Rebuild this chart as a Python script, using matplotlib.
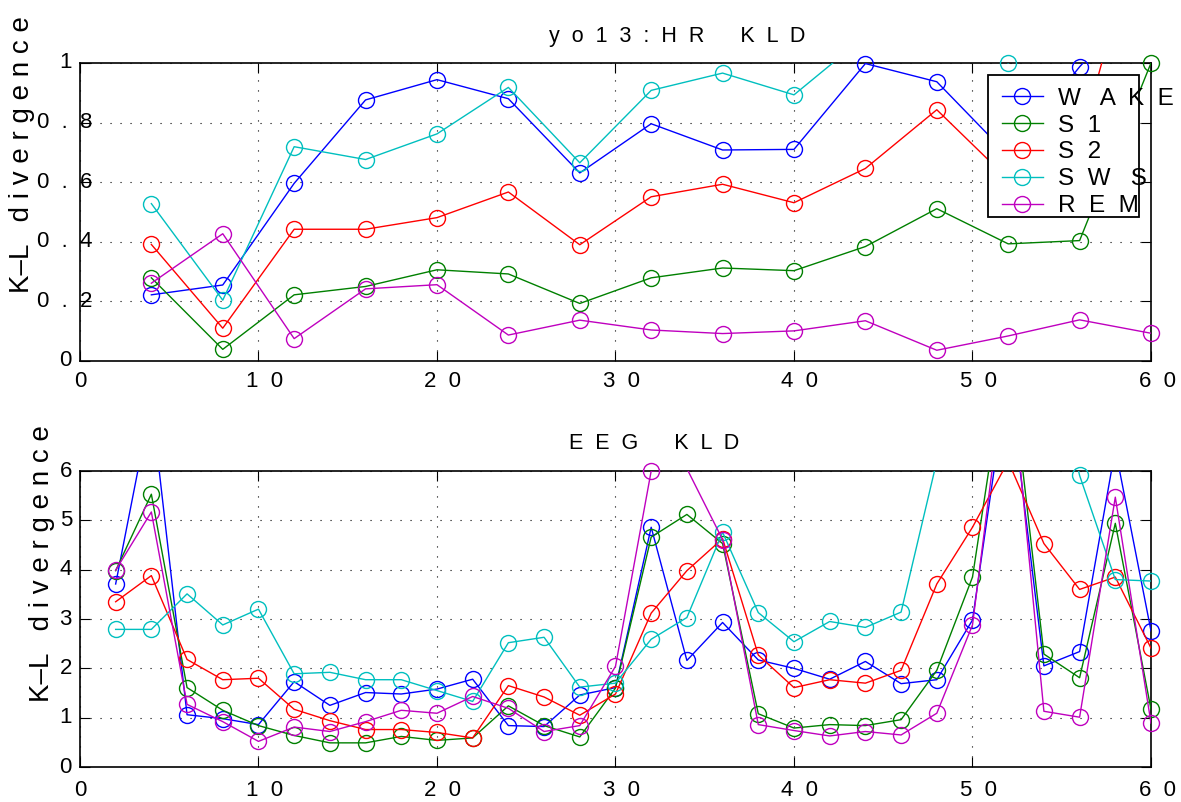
import numpy as np
import matplotlib
matplotlib.use('Agg')
import matplotlib.pyplot as plt
import matplotlib.transforms as mtr
from matplotlib.lines import Line2D
from matplotlib.patches import Rectangle

plt.rcParams['font.family'] = ['Liberation Sans', 'DejaVu Sans']

# heart rate KLD, one point every 4 units
hr_x = np.arange(4, 61, 4)
hr_wake = [0.222, 0.255, 0.596, 0.876, 0.944, 0.880, 0.631, 0.796, 0.708, 0.710, 0.998, 0.937, 0.690, 0.987, 1.25]
hr_s1 = [0.279, 0.039, 0.222, 0.250, 0.306, 0.292, 0.193, 0.279, 0.312, 0.303, 0.384, 0.511, 0.393, 0.404, 1.00]
hr_s2 = [0.391, 0.110, 0.442, 0.442, 0.481, 0.567, 0.390, 0.551, 0.593, 0.531, 0.646, 0.843, 0.610, 0.730, 1.60]
hr_sws = [0.528, 0.204, 0.719, 0.676, 0.762, 0.918, 0.665, 0.908, 0.966, 0.893, 1.09, 1.15, 1.00, 1.20, 1.15]
hr_rem = [0.261, 0.427, 0.075, 0.242, 0.256, 0.087, 0.137, 0.104, 0.092, 0.101, 0.135, 0.036, 0.084, 0.138, 0.093]

# EEG KLD, one point every 2 units
eeg_x = np.arange(2, 61, 2)
eeg_wake = [3.71, 7.40, 1.06, 0.98, 0.86, 1.73, 1.25, 1.51, 1.48, 1.58, 1.78, 0.84, 0.82, 1.46, 1.61,
            4.86, 2.16, 2.93, 2.17, 2.00, 1.78, 2.14, 1.69, 1.77, 2.98, 8.00, 2.05, 2.34, 6.45, 2.76]
eeg_s1 = [3.98, 5.53, 1.61, 1.15, 0.84, 0.64, 0.49, 0.49, 0.62, 0.54, 0.59, 1.24, 0.84, 0.61, 1.60,
          4.66, 5.12, 4.53, 1.08, 0.79, 0.86, 0.84, 0.96, 1.96, 3.85, 8.60, 2.29, 1.81, 4.94, 1.17]
eeg_s2 = [3.35, 3.88, 2.18, 1.77, 1.80, 1.17, 0.94, 0.76, 0.76, 0.70, 0.59, 1.65, 1.42, 1.05, 1.48,
          3.12, 3.98, 4.63, 2.27, 1.61, 1.77, 1.70, 1.96, 3.71, 4.86, 6.20, 4.53, 3.60, 3.85, 2.41]
eeg_sws = [2.79, 2.79, 3.51, 2.88, 3.20, 1.89, 1.92, 1.77, 1.77, 1.55, 1.33, 2.52, 2.63, 1.62, 1.70,
           2.59, 3.03, 4.76, 3.13, 2.54, 2.95, 2.83, 3.14, 6.20, 9.00, 10.0, 9.00, 5.91, 3.80, 3.77]
eeg_rem = [3.99, 5.17, 1.27, 0.92, 0.52, 0.81, 0.72, 0.92, 1.15, 1.09, 1.43, 1.19, 0.72, 0.84, 2.04,
           6.00, 6.05, 4.61, 0.86, 0.74, 0.63, 0.72, 0.65, 1.09, 2.88, 8.60, 1.13, 1.01, 5.47, 0.89]

labels = ['W   A  K  E', 'S  1', 'S  2', 'S  W   S', 'R  E  M']
cols = ['#0000ff', '#008000', '#ff0000', '#00bfbf', '#bf00bf']

xticks = [0, 10, 20, 30, 40, 50, 60]
xticklabels = ['0', '1  0', '2  0', '3  0', '4  0', '5  0', '6  0']
hr_yticks = [0, 0.2, 0.4, 0.6, 0.8, 1.0]
hr_yticklabels = ['0', '0  .  2', '0  .  4', '0  .  6', '0  .  8', '1']
eeg_yticks = [0, 1, 2, 3, 4, 5, 6]
eeg_yticklabels = ['0', '1', '2', '3', '4', '5', '6']

fs = 16

fig = plt.figure(figsize=(11.81, 8.02), dpi=100)
ax1 = fig.add_axes([0.0677, 0.5499, 0.9069, 0.3716])
ax2 = fig.add_axes([0.0677, 0.0436, 0.9069, 0.3691])


def draw(ax, x, series, ytop):
    for vals, c in zip(series, cols):
        vals = np.asarray(vals)
        ax.plot(x, vals, '-', color=c, lw=1.0, zorder=3)
        # matlab keeps whole markers for points inside the limits
        ok = vals <= ytop + 1e-6
        ax.plot(x[ok], vals[ok], 'o', mfc='none', mec=c, ms=11.5, mew=1.0,
                clip_on=False, zorder=3)
    ax.set_xlim(0, 60)
    ax.set_ylim(0, ytop)
    ax.grid(True, color='k', linestyle=(0, (1, 8)), lw=0.8)
    ax.tick_params(direction='in', top=True, right=True, length=7.5, width=0.8,
                   labelleft=False, labelbottom=False)
    for s in ax.spines.values():
        s.set_linewidth(1.2)


def xlabels(ax, dy):
    tr = mtr.offset_copy(ax.get_xaxis_transform(), fig=fig, x=0, y=-dy, units='dots')
    for t, lab in zip(xticks, xticklabels):
        off = 6 if len(lab) > 1 else 0
        ax.text(t + off / 17.85, 0, lab, transform=tr, ha='center', va='center',
                fontsize=fs)


draw(ax1, hr_x, [hr_wake, hr_s1, hr_s2, hr_sws, hr_rem], 1.0)
draw(ax2, eeg_x, [eeg_wake, eeg_s1, eeg_s2, eeg_sws, eeg_rem], 6.0)
ax1.set_xticks(xticks)
ax2.set_xticks(xticks)
ax1.set_yticks(hr_yticks)
ax2.set_yticks(eeg_yticks)

xlabels(ax1, 21)
xlabels(ax2, 23)

# y tick labels
trr = mtr.offset_copy(ax1.get_yaxis_transform(), fig=fig, x=-8, y=0, units='dots')
trl = mtr.offset_copy(ax1.get_yaxis_transform(), fig=fig, x=-43, y=0, units='dots')
for t, lab in zip(hr_yticks, hr_yticklabels):
    if len(lab) > 1:
        ax1.text(0, t, lab, transform=trl, ha='left', va='center', fontsize=fs)
    else:
        ax1.text(0, t, lab, transform=trr, ha='right', va='center', fontsize=fs)
tr2 = mtr.offset_copy(ax2.get_yaxis_transform(), fig=fig, x=-8, y=0, units='dots')
for t, lab in zip(eeg_yticks, eeg_yticklabels):
    ax2.text(0, t, lab, transform=tr2, ha='right', va='center', fontsize=fs)

# titles and y labels
fig.text(0.5732, 0.9551, 'y  o  1  3  :  H  R      K  L  D', ha='center', va='center', fontsize=15.5)
fig.text(0.5538, 0.4476, 'E  E  G      K  L  D', ha='center', va='center', fontsize=15.5)
fig.text(0.0186, 0.6347, 'K–L   d i v e r g e n c e', rotation=90, ha='center', va='bottom', fontsize=20)
fig.text(0.0356, 0.1247, 'K–L   d i v e r g e n c e', rotation=90, ha='center', va='bottom', fontsize=20)

# legend, frame drawn by hand so the text can spill over like the original
ax1.add_patch(Rectangle((0.8478, 0.4832), 0.9888 - 0.8478, 0.9597 - 0.4832,
                        transform=ax1.transAxes, facecolor='white', edgecolor='k',
                        lw=1.3, zorder=4.5, clip_on=False))
hands = [Line2D([], [], color=c, marker='o', mfc='none', ms=11.5, lw=1.0) for c in cols]
leg = ax1.legend(hands, labels, loc='upper left', bbox_to_anchor=(0.8606, 0.9170),
                 frameon=False, fontsize=17.5, handlelength=1.7, handletextpad=0.62,
                 labelspacing=0.2, borderpad=0, borderaxespad=0)
leg.set_zorder(5)

fig.savefig('out.png', dpi=100)
